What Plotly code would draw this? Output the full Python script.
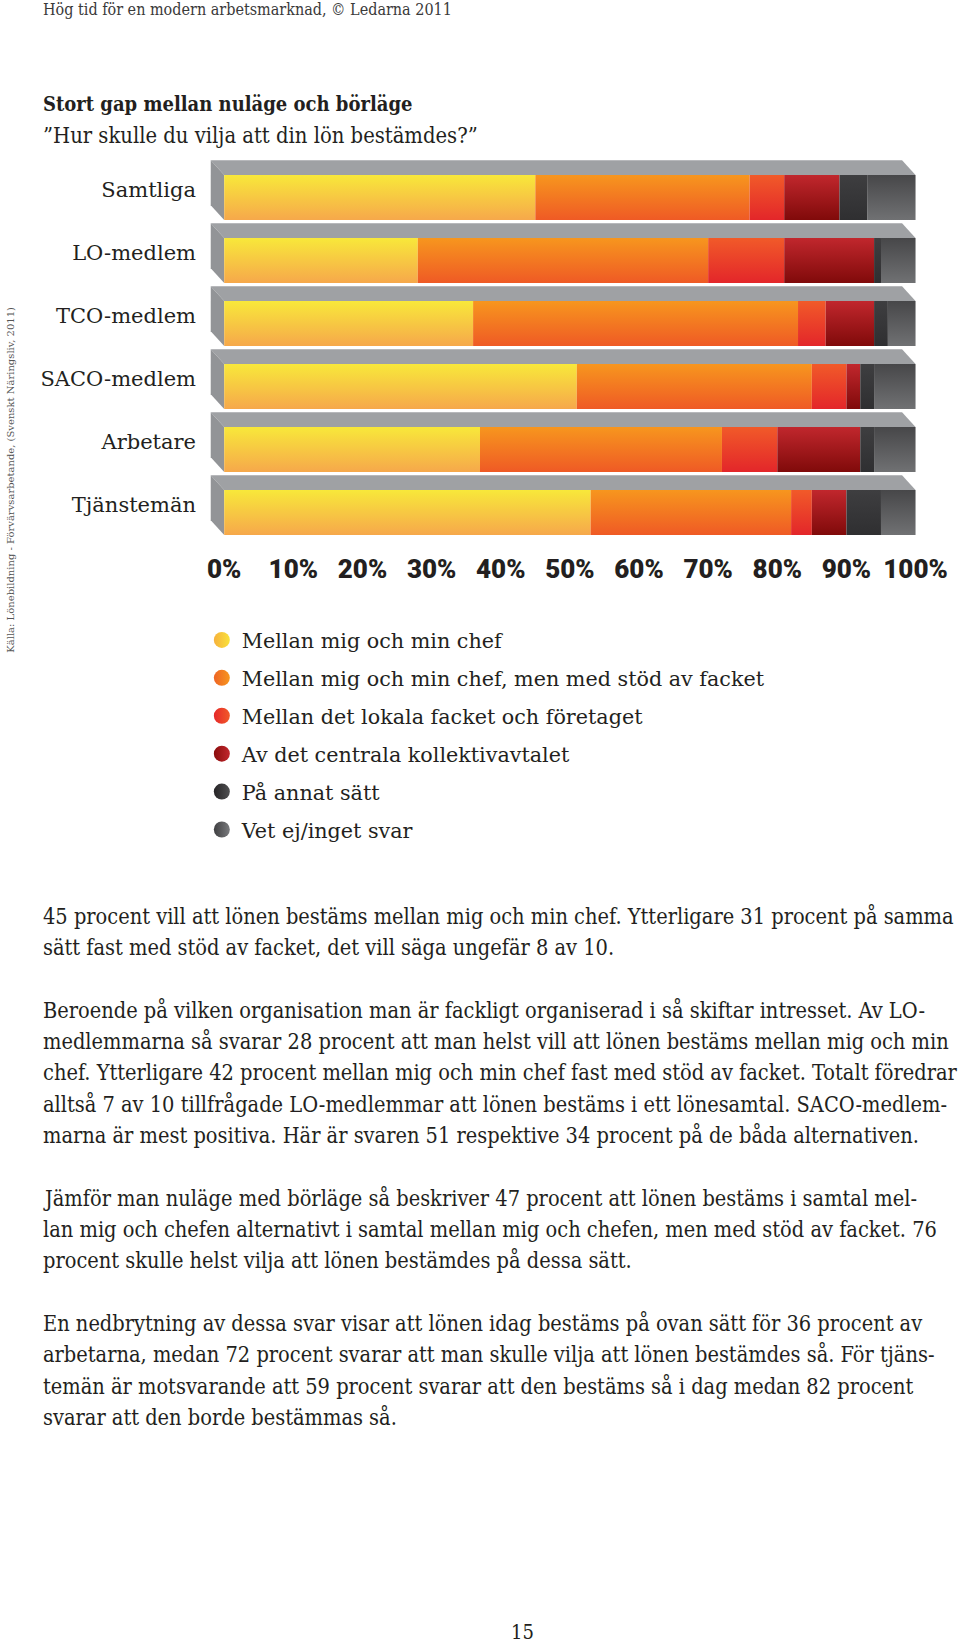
import plotly.graph_objects as go

# ---------------- data ----------------
categories = ["Samtliga", "LO-medlem", "TCO-medlem", "SACO-medlem", "Arbetare", "Tjänstemän"]
series_names = [
    "Mellan mig och min chef",
    "Mellan mig och min chef, men med stöd av facket",
    "Mellan det lokala facket och företaget",
    "Av det centrala kollektivavtalet",
    "På annat sätt",
    "Vet ej/inget svar",
]
chef = [45, 28, 36, 51, 37, 53]
chef_fack = [31, 42, 47, 34, 35, 29]
lokala = [5, 11, 4, 5, 8, 3]
centrala = [8, 13, 7, 2, 12, 5]
annat = [4, 1, 2, 2, 2, 5]
vet_ej = [7, 5, 4, 6, 6, 5]
tick_vals = [0, 10, 20, 30, 40, 50, 60, 70, 80, 90, 100]
tick_text = ["0%", "10%", "20%", "30%", "40%", "50%", "60%", "70%", "80%", "90%", "100%"]

header = "Hög tid för en modern arbetsmarknad, © Ledarna 2011"
title = "Stort gap mellan nuläge och börläge"
subtitle = "”Hur skulle du vilja att din lön bestämdes?”"
source = "Källa: Lönebildning - Förvärvsarbetande, (Svenskt Näringsliv, 2011)"
page_no = "15"
body_lines = [
    "45 procent vill att lönen bestäms mellan mig och min chef. Ytterligare 31 procent på samma",
    "sätt fast med stöd av facket, det vill säga ungefär 8 av 10.",
    "",
    "Beroende på vilken organisation man är fackligt organiserad i så skiftar intresset. Av LO-",
    "medlemmarna så svarar 28 procent att man helst vill att lönen bestäms mellan mig och min",
    "chef. Ytterligare 42 procent mellan mig och min chef fast med stöd av facket. Totalt föredrar",
    "alltså 7 av 10 tillfrågade LO-medlemmar att lönen bestäms i ett lönesamtal. SACO-medlem-",
    "marna är mest positiva. Här är svaren 51 respektive 34 procent på de båda alternativen.",
    "",
    "Jämför man nuläge med börläge så beskriver 47 procent att lönen bestäms i samtal mel-",
    "lan mig och chefen alternativt i samtal mellan mig och chefen, men med stöd av facket. 76",
    "procent skulle helst vilja att lönen bestämdes på dessa sätt.",
    "",
    "En nedbrytning av dessa svar visar att lönen idag bestäms på ovan sätt för 36 procent av",
    "arbetarna, medan 72 procent svarar att man skulle vilja att lönen bestämdes så. För tjäns-",
    "temän är motsvarande att 59 procent svarar att den bestäms så i dag medan 82 procent",
    "svarar att den borde bestämmas så.",
]

series_values = [chef, chef_fack, lokala, centrala, annat, vet_ej]

# ---------------- style ----------------
grad_top = ["#f8e83a", "#f7961e", "#f15a29", "#c1272d", "#3e3e40", "#474749"]
grad_bot = ["#f6a84b", "#ef5a25", "#e3262a", "#800a0a", "#2f2f31", "#707173"]
leg_left = ["#f6b13c", "#ee6424", "#e5282a", "#8a0c0c", "#262426", "#3f3f41"]
leg_right = ["#f9e23a", "#f7961e", "#f15a29", "#c1272d", "#505052", "#7a7b7e"]
TOP_FACE = "#9fa1a4"
SIDE_FACE = "#929497"
TEXT = "#231f20"
SERIF = "DejaVu Serif"
SERIF_C = "DejaVu Serif Condensed, DejaVu Serif"
BOLDSANS = "Roboto, DejaVu Sans, sans-serif"

W, H = 960, 1646
L_PX, R_PX, T_PX, B_PX = 209.2, 922.5, 150, 545
X_RANGE = [-2.2, 100.5]
Y_RANGE = [5.516, -0.754]
HH = 0.357      # half height of front face (category units)
TOPH = 0.233    # depth of top face (category units)
DX = 1.95       # depth shift (percent units)


def px_x(px):
    return (px - L_PX) / (R_PX - L_PX)


def px_y(py):
    return (B_PX - py) / (B_PX - T_PX)


fig = go.Figure()

# 3D gray faces (behind)
for i, cat in enumerate(categories):
    top = i - HH
    bot = i + HH
    fig.add_trace(go.Scatter(
        x=[0, 100, 100 - DX, -DX, 0], y=[top, top, top - TOPH, top - TOPH, top],
        fill="toself", fillcolor=TOP_FACE, mode="lines", line=dict(width=0),
        hoverinfo="skip", showlegend=False))
    fig.add_trace(go.Scatter(
        x=[-DX, 0, 0, -DX, -DX], y=[top - TOPH, top, bot, bot - TOPH, top - TOPH],
        fill="toself", fillcolor=SIDE_FACE, mode="lines", line=dict(width=0),
        hoverinfo="skip", showlegend=False))

# front faces: stacked segments
for i, cat in enumerate(categories):
    base = 0
    for k, vals in enumerate(series_values):
        v = vals[i]
        x0, x1 = base, base + v
        base = x1
        top = i - HH
        bot = i + HH
        fig.add_trace(go.Scatter(
            x=[x0, x1, x1, x0, x0], y=[top, top, bot, bot, top],
            fill="toself", mode="lines", line=dict(width=0),
            fillcolor=grad_top[k],
            fillgradient=dict(type="vertical", colorscale=[[0, grad_top[k]], [1, grad_bot[k]]],
                              start=top, stop=bot),
            name=series_names[k], legendgroup=series_names[k], showlegend=False,
            hovertemplate=f"{cat}<br>{series_names[k]}: {v}%<extra></extra>"))

# legend entries
for k, name in enumerate(series_names):
    fig.add_trace(go.Scatter(
        x=[None], y=[None], mode="markers", name=name, legendgroup=name,
        marker=dict(symbol="circle", size=16, color=leg_left[k],
                    gradient=dict(type="horizontal", color=leg_right[k]))))

annotations = []
annotations.append(dict(text=header, x=px_x(40), y=px_y(9), xref="paper", yref="paper",
                        xanchor="left", yanchor="middle", showarrow=False,
                        font=dict(family=SERIF_C, size=16, color="#3a3a3a")))
annotations.append(dict(text="<b>" + title + "</b>", x=px_x(40), y=px_y(104), xref="paper", yref="paper",
                        xanchor="left", yanchor="middle", showarrow=False,
                        font=dict(family=SERIF_C, size=20, color=TEXT)))
annotations.append(dict(text=subtitle, x=px_x(40), y=px_y(135), xref="paper", yref="paper",
                        xanchor="left", yanchor="middle", showarrow=False,
                        font=dict(family=SERIF_C, size=21.8, color=TEXT)))
annotations.append(dict(text=source, x=px_x(9), y=px_y(480), xref="paper", yref="paper",
                        xanchor="center", yanchor="middle", showarrow=False, textangle=-90,
                        font=dict(family=SERIF, size=10, color="#555555")))
for n, line in enumerate(body_lines):
    if not line:
        continue
    annotations.append(dict(text=line, x=px_x(40), y=px_y(916 + n * 31.3), xref="paper", yref="paper",
                            xanchor="left", yanchor="middle", showarrow=False,
                            font=dict(family=SERIF_C, size=21.6, color=TEXT)))
annotations.append(dict(text=page_no, x=px_x(524), y=px_y(1632), xref="paper", yref="paper",
                        xanchor="center", yanchor="middle", showarrow=False,
                        font=dict(family=SERIF_C, size=20, color=TEXT)))

fig.update_layout(
    width=W, height=H,
    margin=dict(l=L_PX, r=W - R_PX, t=T_PX, b=H - B_PX, pad=0),
    paper_bgcolor="white", plot_bgcolor="white",
    xaxis=dict(range=X_RANGE, tickvals=tick_vals, ticktext=tick_text, showgrid=False,
               zeroline=False, showline=False, ticks="", fixedrange=True, tickangle=0,
               tickfont=dict(family=BOLDSANS, size=26, color=TEXT, weight=900),
               ticklabelstandoff=6),
    yaxis=dict(range=Y_RANGE, tickvals=list(range(len(categories))), ticktext=categories,
               showgrid=False, zeroline=False, showline=False, ticks="", fixedrange=True,
               tickfont=dict(family=SERIF, size=21, color=TEXT),
               ticklabelstandoff=12, ticklabelshift=8),
    legend=dict(x=px_x(202), y=px_y(620), xanchor="left", yanchor="top",
                font=dict(family=SERIF, size=20.7, color=TEXT), traceorder="grouped",
                tracegroupgap=8, bgcolor="rgba(0,0,0,0)", itemclick=False, itemdoubleclick=False),
    annotations=annotations,
    showlegend=True,
)

fig.write_html("out.html")
